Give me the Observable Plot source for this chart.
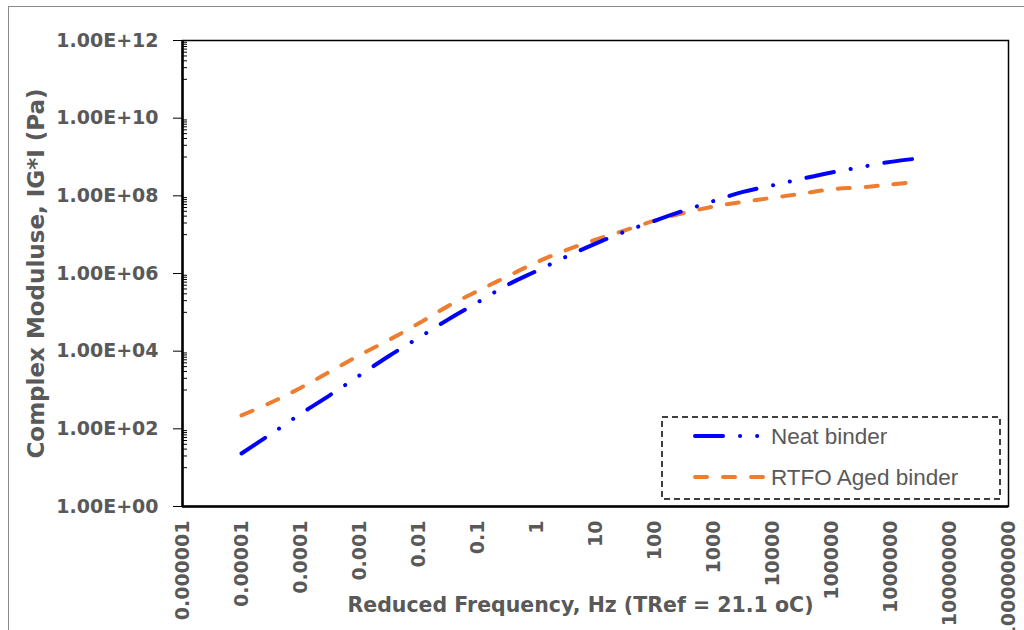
<!DOCTYPE html>
<html><head><meta charset="utf-8">
<script src="https://cdn.jsdelivr.net/npm/d3@7"></script>
<script src="https://cdn.jsdelivr.net/npm/@observablehq/plot@0.6"></script>
<style>
html,body{margin:0;padding:0;background:#fff;overflow:hidden;}
#wrap{position:relative;width:1024px;height:630px;overflow:hidden;}
#border{position:absolute;left:8px;top:6px;width:1100px;height:700px;border:1.5px solid #8a8a8a;box-sizing:border-box;}
#chart{position:absolute;left:0;top:0;}
#legend{position:absolute;left:661px;top:416px;}
</style></head>
<body><div id="wrap"><div id="border"></div><div id="chart"></div><div id="legend"></div></div>
<script>
// Reduced frequency (Hz)
const freq = [0.00001, 0.0000316, 0.0001, 0.000316, 0.001, 0.00316, 0.01, 0.0316, 0.1, 0.316, 1, 3.16, 10, 31.6, 100, 316, 1000, 3160, 10000, 31600, 100000, 316000, 1000000, 2820000];
// |G*| (Pa), Neat binder
const neat = [23.2, 73.6, 241, 740, 2370, 7520, 21980, 65000, 179500, 501000, 1160000, 2690000, 5890000, 12000000, 22600000, 41700000, 73300000, 126000000, 186000000, 275000000, 398000000, 550000000, 750000000, 912000000];
// |G*| (Pa), RTFO Aged binder
const rtfo = [221, 476, 1130, 2980, 7870, 19500, 51300, 144500, 352000, 832000, 1950000, 3980000, 7410000, 12900000, 22900000, 36300000, 53100000, 70000000, 89100000, 114000000, 148000000, 165000000, 195000000, 228000000];

const seriesNames = ["Neat binder", "RTFO Aged binder"];
const seriesColors = ["#0000FF", "#ED7D31"];
const seriesDash = ["28,17,0.1,17,0.1,17", "12,16"];

const xTicks = [1e-6, 1e-5, 1e-4, 1e-3, 1e-2, 1e-1, 1, 10, 100, 1e3, 1e4, 1e5, 1e6, 1e7, 1e8];
const xTickLabels = ["0.000001", "0.00001", "0.0001", "0.001", "0.01", "0.1", "1", "10", "100", "1000", "10000", "100000", "1000000", "10000000", "100000000"];
const yTicks = [1, 1e2, 1e4, 1e6, 1e8, 1e10, 1e12];
const yTickLabels = ["1.00E+00", "1.00E+02", "1.00E+04", "1.00E+06", "1.00E+08", "1.00E+10", "1.00E+12"];
const xTitle = "Reduced Frequency, Hz (TRef = 21.1 oC)";
const yTitle = "Complex Moduluse, IG*I (Pa)";

// minor ticks of the base-100 log axis: k x 10^(2n+1)
const yMinor = [];
for (let e = 1; e <= 11; e += 2) for (let k = 1; k <= 9; k++) yMinor.push(k * Math.pow(10, e));

const xLab = new Map(xTicks.map((t, i) => [t, xTickLabels[i]]));
const yLab = new Map(yTicks.map((t, i) => [t, yTickLabels[i]]));

const neatData = freq.map((f, i) => ({f, g: neat[i]}));
const rtfoData = freq.map((f, i) => ({f, g: rtfo[i]}));

const W = 1024, H = 630, mL = 182, mR = 16, mT = 40, mB = 124;

const chart = Plot.plot({
  width: W, height: H,
  marginLeft: mL, marginRight: mR, marginTop: mT, marginBottom: mB,
  style: {fontFamily: "DejaVu Sans, sans-serif", fontSize: "19px", color: "#595959", background: "transparent"},
  x: {type: "log", domain: [1e-6, 1e8]},
  y: {type: "log", domain: [1, 1e12]},
  marks: [
    Plot.axisX({ticks: xTicks, tickFormat: d => xLab.get(d), tickSize: 0, tickPadding: 14, tickRotate: -90, fontWeight: "bold", fill: "#595959", label: null}),
    Plot.axisY({ticks: yTicks, tickFormat: d => yLab.get(d), tickSize: 9, tickPadding: 15, fontWeight: "bold", fill: "#595959", stroke: "black", label: null}),
    Plot.tickY(yMinor, {y: d => d, stroke: "black", strokeWidth: 1, insetRight: (W - mL - mR) - 5}),
    Plot.frame({stroke: "black", strokeWidth: 1.5}),
    Plot.ruleX([1e-6], {stroke: "black", strokeWidth: 2.5}),
    Plot.ruleY([1], {stroke: "black", strokeWidth: 2.5}),
    Plot.line(rtfoData, {x: "f", y: "g", stroke: seriesColors[1], strokeWidth: 4, strokeDasharray: seriesDash[1], strokeLinecap: "round", curve: "catmull-rom"}),
    Plot.line(neatData, {x: "f", y: "g", stroke: seriesColors[0], strokeWidth: 4, strokeDasharray: seriesDash[0], strokeLinecap: "round", curve: "catmull-rom"}),
    Plot.text([yTitle], {text: d => d, frameAnchor: "left", textAnchor: "middle", dx: -146, rotate: -90, fontWeight: "bold", fontSize: 23, fill: "#595959"}),
    Plot.text([xTitle], {text: d => d, frameAnchor: "bottom", textAnchor: "middle", dx: -15, dy: 105, fontWeight: "bold", fontSize: 20.5, fill: "#595959"})
  ]
});
document.getElementById("chart").appendChild(chart);

// legend (inside the plot area, bottom right)
const lg = d3.select("#legend").append("svg").attr("width", 342).attr("height", 86);
lg.append("rect").attr("x", 1).attr("y", 1).attr("width", 338).attr("height", 82)
  .attr("fill", "white").attr("stroke", "black").attr("stroke-width", 1.5).attr("stroke-dasharray", "6,4");
const rowsY = [20, 61];
seriesNames.forEach((name, i) => {
  lg.append("line").attr("x1", 34).attr("x2", i === 0 ? 97 : 102).attr("y1", rowsY[i]).attr("y2", rowsY[i])
    .attr("stroke", seriesColors[i]).attr("stroke-width", 4).attr("stroke-linecap", "round")
    .attr("stroke-dasharray", seriesDash[i]);
  lg.append("text").attr("x", 110).attr("y", rowsY[i]).attr("dominant-baseline", "central")
    .attr("font-family", "Liberation Sans, Arial, sans-serif").attr("font-size", 22.5).attr("fill", "#595959").text(name);
});
</script>
</body></html>
